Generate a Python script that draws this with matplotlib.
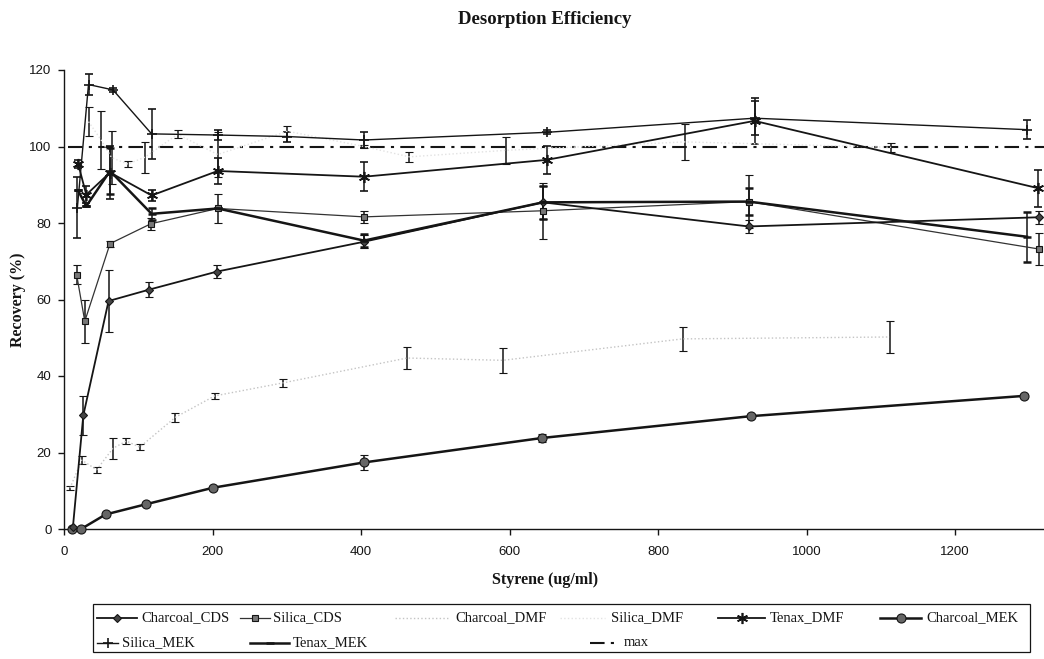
import matplotlib
matplotlib.use("Agg")
import matplotlib.pyplot as plt
from matplotlib.lines import Line2D
from matplotlib.patches import Rectangle

# ---- data: styrene concentration (ug/ml) vs recovery (%) with error half-widths ----
charcoal_cds_x = [12, 26, 60, 115, 206, 404, 645, 922, 1313]
charcoal_cds_y = [0.5, 29.7, 59.6, 62.6, 67.3, 75.1, 85.4, 79.1, 81.5]
charcoal_cds_e = [0, 5.2, 8.0, 2.0, 1.6, 1.7, 4.4, 1.8, 1.7]

silica_cds_x = [17, 28, 62, 117, 207, 404, 645, 922, 1313]
silica_cds_y = [66.5, 54.3, 74.6, 79.8, 83.8, 81.6, 83.2, 85.6, 73.2]
silica_cds_e = [2.4, 5.7, 0.8, 1.5, 3.9, 1.5, 7.3, 7.0, 4.1]

charcoal_dmf_x = [8, 24, 44, 66, 84, 102, 150, 203, 295, 462, 591, 833, 1112]
charcoal_dmf_y = [10.7, 18.0, 15.5, 21.1, 23.0, 21.4, 29.2, 34.8, 38.2, 44.7, 44.1, 49.7, 50.2]
charcoal_dmf_e = [0.5, 1.0, 0.8, 2.8, 0.8, 0.8, 1.2, 0.8, 1.0, 2.8, 3.2, 3.2, 4.2]

silica_dmf_x = [33, 50, 64, 86, 109, 153, 207, 301, 404, 465, 595, 836, 1114]
silica_dmf_y = [106.5, 101.7, 97.1, 95.4, 97.2, 103.2, 97.9, 104.0, 100.0, 97.3, 99.0, 101.2, 99.8]
silica_dmf_e = [3.7, 7.6, 7.0, 0.8, 4.0, 1.0, 6.0, 1.3, 0.5, 1.3, 3.5, 4.6, 1.2]

tenax_dmf_x = [19, 30, 62, 118, 207, 404, 650, 930, 1312]
tenax_dmf_y = [95.5, 87.4, 93.2, 87.2, 93.6, 92.1, 96.5, 106.7, 89.1]
tenax_dmf_e = [1.0, 2.2, 7.0, 1.5, 3.5, 3.8, 3.6, 6.0, 4.8]

charcoal_mek_x = [11, 23, 56, 111, 201, 404, 644, 925, 1293]
charcoal_mek_y = [0.0, 0.0, 3.8, 6.5, 10.8, 17.4, 23.8, 29.5, 34.8]
charcoal_mek_e = [0, 0, 0.3, 0.5, 0.5, 2.0, 1.0, 0.5, 0.5]

silica_mek_x = [18, 33, 66, 118, 207, 301, 404, 650, 930, 1297]
silica_mek_y = [84.0, 116.2, 114.8, 103.3, 103.0, 102.6, 101.7, 103.7, 107.4, 104.4]
silica_mek_e = [7.9, 2.7, 0.5, 6.5, 1.3, 1.3, 2.0, 0.5, 4.4, 2.4]

tenax_mek_x = [19, 30, 62, 118, 207, 404, 645, 922, 1297]
tenax_mek_y = [88.5, 84.4, 93.6, 82.4, 83.8, 75.4, 85.4, 85.6, 76.4]
tenax_mek_e = [0, 0, 6.0, 1.5, 0, 1.7, 4.4, 3.5, 6.6]

max_x = [5, 1320]
max_y = [100, 100]

x_ticks = [0, 200, 400, 600, 800, 1000, 1200]
y_ticks = [0, 20, 40, 60, 80, 100, 120]

# ---- styles ----
INK = "#151515"
SERIF = ["Liberation Serif", "DejaVu Serif"]
SANS = ["Liberation Sans", "DejaVu Sans"]

styles = {
    "Charcoal_CDS": dict(color=INK, lw=1.3, ls="-", marker="D", ms=4.5, mfc="#444444", mec=INK),
    "Silica_CDS": dict(color="#333333", lw=0.9, ls="-", marker="s", ms=5, mfc="#777777", mec=INK),
    "Charcoal_DMF": dict(color="#c4c4c4", lw=1.0, ls=":", marker="", ms=0),
    "Silica_DMF": dict(color="#e2e2e2", lw=1.0, ls=":", marker="", ms=0),
    "Tenax_DMF": dict(color=INK, lw=1.3, ls="-", marker=(6, 2, 0), ms=8, mfc=INK, mec=INK, mew=1.2),
    "Charcoal_MEK": dict(color=INK, lw=1.8, ls="-", marker="o", ms=6.5, mfc="#666666", mec=INK),
    "Silica_MEK": dict(color=INK, lw=1.0, ls="-", marker="+", ms=7, mfc=INK, mec=INK, mew=1.2),
    "Tenax_MEK": dict(color=INK, lw=1.8, ls="-", marker="_", ms=6, mfc=INK, mec=INK, mew=1.8),
    "max": dict(color=INK, lw=1.5, ls=(0, (7, 3, 1.5, 3)), marker="", ms=0),
}

series = [
    ("Silica_DMF", silica_dmf_x, silica_dmf_y, silica_dmf_e),
    ("Charcoal_DMF", charcoal_dmf_x, charcoal_dmf_y, charcoal_dmf_e),
    ("Charcoal_MEK", charcoal_mek_x, charcoal_mek_y, charcoal_mek_e),
    ("Silica_CDS", silica_cds_x, silica_cds_y, silica_cds_e),
    ("Charcoal_CDS", charcoal_cds_x, charcoal_cds_y, charcoal_cds_e),
    ("Tenax_MEK", tenax_mek_x, tenax_mek_y, tenax_mek_e),
    ("Tenax_DMF", tenax_dmf_x, tenax_dmf_y, tenax_dmf_e),
    ("Silica_MEK", silica_mek_x, silica_mek_y, silica_mek_e),
]

W, H = 1044, 659
fig = plt.figure(figsize=(W / 100, H / 100), dpi=100)
fig.patch.set_facecolor("white")

ax = fig.add_axes([64 / W, 1 - 529 / H, (W - 64) / W, (529 - 70) / H])
ax.set_xlim(0, (W - 64) / 0.7425)
ax.set_ylim(0, 120)
ax.set_clip_on(False)

for name, xs, ys, es in series:
    st = styles[name]
    ax.errorbar(xs, ys, yerr=es, ecolor=INK, elinewidth=1.1, capsize=3, capthick=1.1,
                color=st["color"], lw=st["lw"], ls=st["ls"], marker=st["marker"] or None,
                ms=st["ms"], mfc=st.get("mfc"), mec=st.get("mec"), mew=st.get("mew", 0.8),
                zorder=3, clip_on=False)

st = styles["max"]
ax.plot(max_x, max_y, color=st["color"], lw=st["lw"], ls=st["ls"], zorder=2)

for side in ("top", "right"):
    ax.spines[side].set_visible(False)
for side in ("left", "bottom"):
    ax.spines[side].set_color(INK)
    ax.spines[side].set_linewidth(1.0)

ax.set_xticks(x_ticks)
ax.set_yticks(y_ticks)
ax.tick_params(axis="both", direction="out", length=4, width=1, color=INK,
               labelsize=9.5, labelcolor=INK)
ax.tick_params(axis="y", pad=5)
ax.tick_params(axis="x", pad=8)
for lab in ax.get_xticklabels() + ax.get_yticklabels():
    lab.set_family(SANS)

# titles
fig.text(545 / W, 1 - 19 / H, "Desorption Efficiency", ha="center", va="center",
         family=SERIF, fontweight="bold", fontsize=13.5, color=INK)
fig.text(545 / W, 1 - 580 / H, "Styrene (ug/ml)", ha="center", va="center",
         family=SERIF, fontweight="bold", fontsize=11.5, color=INK)
fig.text(18 / W, 1 - 300 / H, "Recovery (%)", ha="center", va="center", rotation=90,
         family=SERIF, fontweight="bold", fontsize=11.5, color=INK)

# legend drawn in figure pixel space
def fx(px):
    return px / W

def fy(py):
    return 1 - py / H

fig.add_artist(Rectangle((fx(93), fy(652)), fx(1030) - fx(93), fy(604) - fy(652),
                         transform=fig.transFigure, fill=False, edgecolor=INK, lw=0.9))

legend_layout = [
    ("Charcoal_CDS", 97, 137, 141, 618),
    ("Silica_CDS", 240, 270, 273, 618),
    ("Charcoal_DMF", 395, 450, 455, 618),
    ("Silica_DMF", 560, 605, 611, 618),
    ("Tenax_DMF", 718, 765, 770, 618),
    ("Charcoal_MEK", 880, 921, 926, 618),
    ("Silica_MEK", 97, 118, 122, 643),
    ("Tenax_MEK", 250, 289, 293, 643),
    ("max", 590, 619, 624, 643),
]
for name, x0, x1, xt, yrow in legend_layout:
    st = styles[name]
    xm = (x0 + x1) / 2
    fig.add_artist(Line2D([fx(x0), fx(xm), fx(x1)], [fy(yrow)] * 3, transform=fig.transFigure,
                          color=st["color"], lw=st["lw"], ls=st["ls"],
                          marker=st["marker"] or None, markevery=[1], ms=st["ms"],
                          mfc=st.get("mfc"), mec=st.get("mec"), mew=st.get("mew", 0.8)))
    fig.text(fx(xt), fy(yrow), name, ha="left", va="center", family=SERIF,
             fontsize=10.5, color=INK)

fig.savefig("out.png", dpi=100, facecolor="white")
